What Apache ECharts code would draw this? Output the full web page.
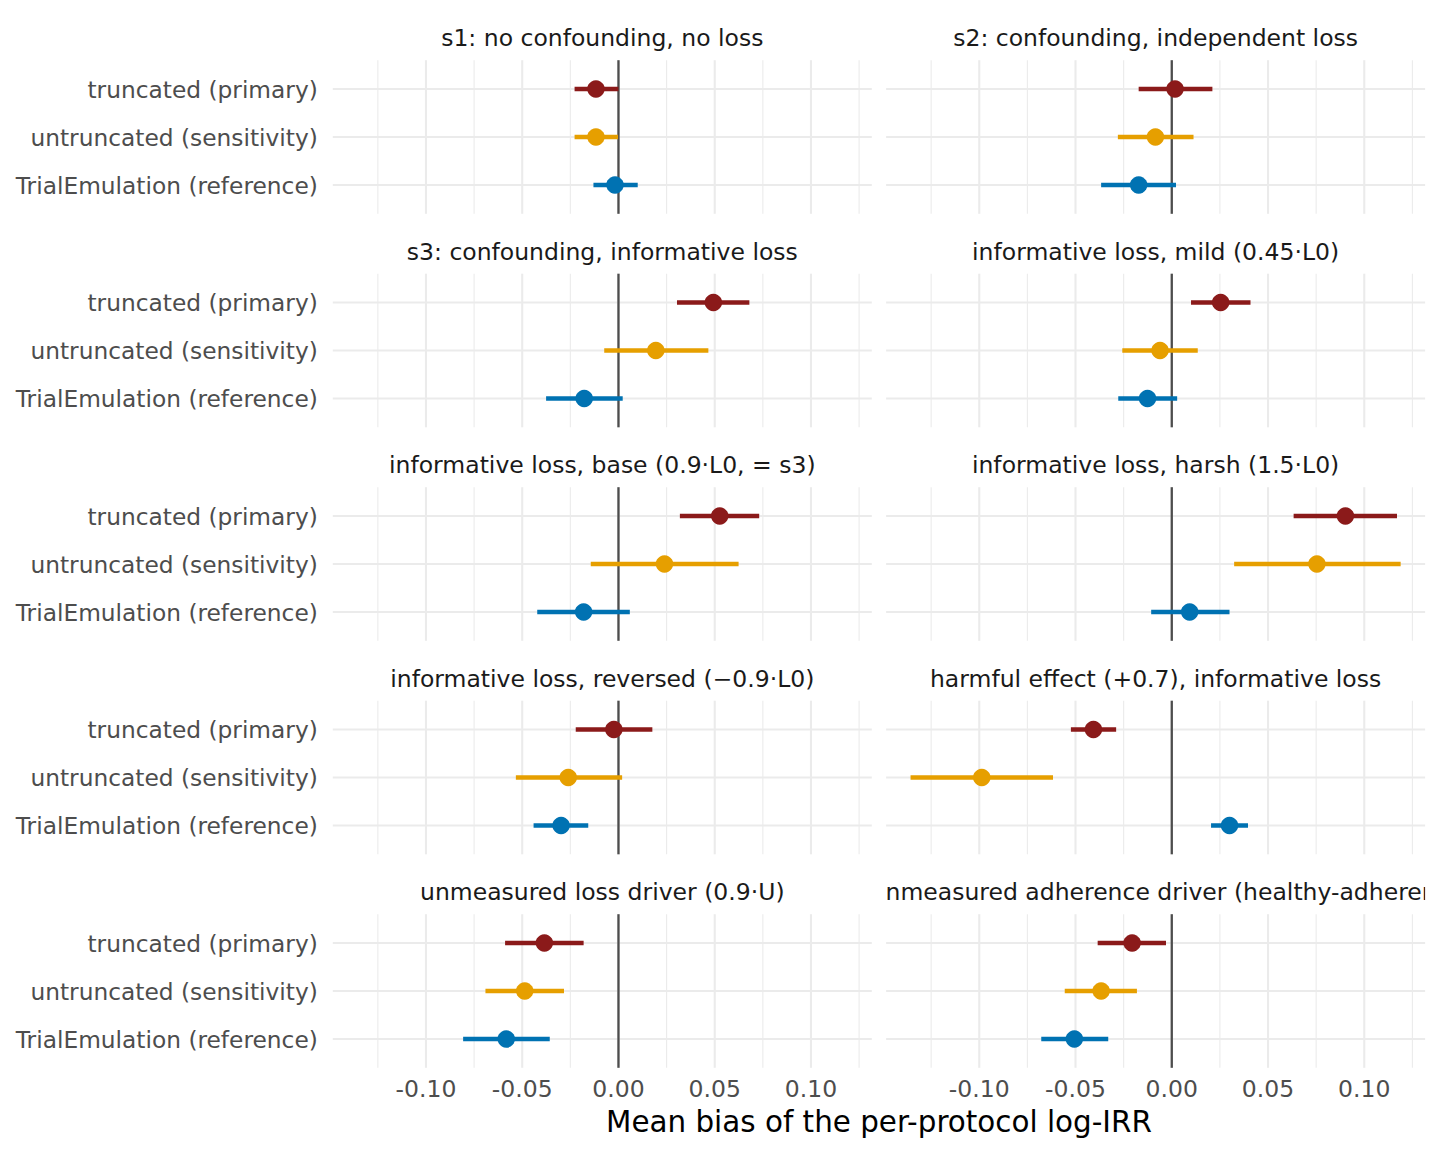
<!DOCTYPE html>
<html>
<head>
<meta charset="utf-8">
<script src="https://cdn.jsdelivr.net/npm/echarts@6/dist/echarts.min.js"></script>
<style>
html,body{margin:0;padding:0;background:#ffffff;}
#chart{width:1440px;height:1152px;}
</style>
</head>
<body>
<div id="chart"></div>
<script>
// ---------------- data ----------------
const panelTitles = [
  "s1: no confounding, no loss",
  "s2: confounding, independent loss",
  "s3: confounding, informative loss",
  "informative loss, mild (0.45\u00b7L0)",
  "informative loss, base (0.9\u00b7L0, = s3)",
  "informative loss, harsh (1.5\u00b7L0)",
  "informative loss, reversed (\u22120.9\u00b7L0)",
  "harmful effect (+0.7), informative loss",
  "unmeasured loss driver (0.9\u00b7U)",
  "unmeasured adherence driver (healthy-adherer)"
];
const methods = ["truncated (primary)", "untruncated (sensitivity)", "TrialEmulation (reference)"];
const methodColors = ["#8B1A1A", "#E69F00", "#0072B2"];

const estTruncated = [-0.0117, 0.0017, 0.0493, 0.0254, 0.0526, 0.0902, -0.0024, -0.0407, -0.0385, -0.0206];
const loTruncated  = [-0.0228, -0.0172, 0.0304, 0.0100, 0.0319, 0.0633, -0.0222, -0.0524, -0.0589, -0.0385];
const hiTruncated  = [0.0000, 0.0211, 0.0680, 0.0409, 0.0731, 0.1170, 0.0176, -0.0289, -0.0181, -0.0030];

const estUntruncated = [-0.0117, -0.0085, 0.0194, -0.0061, 0.0239, 0.0754, -0.0261, -0.0987, -0.0487, -0.0367];
const loUntruncated  = [-0.0228, -0.0280, -0.0074, -0.0257, -0.0144, 0.0324, -0.0533, -0.1357, -0.0691, -0.0556];
const hiUntruncated  = [-0.0002, 0.0113, 0.0467, 0.0135, 0.0624, 0.1189, 0.0019, -0.0617, -0.0283, -0.0181];

const estTrialEmulation = [-0.0018, -0.0172, -0.0178, -0.0126, -0.0181, 0.0093, -0.0298, 0.0300, -0.0583, -0.0506];
const loTrialEmulation  = [-0.0130, -0.0367, -0.0376, -0.0278, -0.0422, -0.0107, -0.0441, 0.0204, -0.0807, -0.0678];
const hiTrialEmulation  = [0.0100, 0.0022, 0.0022, 0.0028, 0.0059, 0.0300, -0.0157, 0.0396, -0.0357, -0.0330];

const xTickValues = [-0.10, -0.05, 0.00, 0.05, 0.10];
const xMinorValues = [-0.125, -0.075, -0.025, 0.025, 0.075, 0.125];
const xTitle = "Mean bias of the per-protocol log-IRR";

// ---------------- layout ----------------
const XMIN = -0.1484, XMAX = 0.1316;
const FONT = "DejaVu Sans";
const colLeft = [332.8, 886.1];
const panelW = 539;
const rowStep = 48;
const row0 = [89, 302.5, 516, 729.5, 943];
const GRID_COLOR = '#EBEBEB';

const estAll = [estTruncated, estUntruncated, estTrialEmulation];
const loAll = [loTruncated, loUntruncated, loTrialEmulation];
const hiAll = [hiTruncated, hiUntruncated, hiTrialEmulation];

function fmtTick(v) {
  return (v < -1e-9 ? "-" : "") + Math.abs(v).toFixed(2);
}

const grids = [], xAxes = [], yAxes = [], series = [], graphics = [];

function vLineRender(width, color) {
  return function (params, api) {
    const a = api.coord([api.value(0), 0]);
    const b = api.coord([api.value(0), 1]);
    return { type: 'line', shape: { x1: a[0], y1: a[1], x2: b[0], y2: b[1] },
             style: { stroke: color, lineWidth: width, lineCap: 'butt' } };
  };
}

for (let i = 0; i < panelTitles.length; i++) {
  const col = i % 2, r = Math.floor(i / 2);
  const left = colLeft[col];
  const gA = 2 * i, gB = 2 * i + 1;
  grids.push({ left: left, top: row0[r] - 0.6 * rowStep, width: panelW, height: 3.2 * rowStep, outerBoundsMode: 'none' });
  grids.push({ left: left, top: row0[r] - 0.5 * rowStep, width: panelW, height: 3 * rowStep, outerBoundsMode: 'none' });

  xAxes.push({
    type: 'value', gridIndex: gA, min: XMIN, max: XMAX,
    splitLine: { show: false }, axisLine: { show: false }, axisTick: { show: false },
    axisLabel: {
      show: r === 4, customValues: xTickValues, formatter: fmtTick,
      fontSize: 23.5, fontFamily: FONT, color: '#4D4D4D', margin: 9
    }
  });
  xAxes.push({ type: 'value', gridIndex: gB, min: XMIN, max: XMAX, show: false });
  yAxes.push({ type: 'value', gridIndex: gA, min: 0, max: 1, show: false });
  yAxes.push({
    type: 'category', gridIndex: gB, data: methods, inverse: true,
    axisLine: { show: false }, axisTick: { show: false }, splitLine: { show: false },
    axisLabel: { show: col === 0, fontSize: 23.3, fontFamily: FONT, color: '#4D4D4D', margin: 15 }
  });

  // minor vertical grid lines
  series.push({
    type: 'custom', xAxisIndex: gA, yAxisIndex: gA, silent: true, animation: false, z: 1,
    data: xMinorValues.map(v => [v]), encode: { x: 0 },
    renderItem: vLineRender(1.1, GRID_COLOR)
  });
  // major vertical grid lines
  series.push({
    type: 'custom', xAxisIndex: gA, yAxisIndex: gA, silent: true, animation: false, z: 1,
    data: xTickValues.map(v => [v]), encode: { x: 0 },
    renderItem: vLineRender(2.1, GRID_COLOR)
  });
  // horizontal grid lines at categories
  series.push({
    type: 'custom', xAxisIndex: gB, yAxisIndex: gB, silent: true, animation: false, z: 1,
    data: methods.map(m => [m]), encode: { y: 0 },
    renderItem: function (params, api) {
      const a = api.coord([XMIN, api.value(0)]);
      const b = api.coord([XMAX, api.value(0)]);
      return { type: 'line', shape: { x1: a[0], y1: a[1], x2: b[0], y2: b[1] },
               style: { stroke: GRID_COLOR, lineWidth: 2.1, lineCap: 'butt' } };
    }
  });
  // zero reference line
  series.push({
    type: 'custom', xAxisIndex: gA, yAxisIndex: gA, silent: true, animation: false, z: 2,
    data: [[0]], encode: { x: 0 },
    renderItem: vLineRender(2.3, '#4D4D4D')
  });

  for (let m = 0; m < methods.length; m++) {
    const color = methodColors[m];
    series.push({
      type: 'custom', xAxisIndex: gB, yAxisIndex: gB, animation: false, silent: true, z: 3,
      data: [[loAll[m][i], hiAll[m][i], methods[m]]],
      encode: { x: [0, 1], y: 2 },
      renderItem: function (params, api) {
        const a = api.coord([api.value(0), api.value(2)]);
        const b = api.coord([api.value(1), api.value(2)]);
        return {
          type: 'line',
          shape: { x1: a[0], y1: a[1], x2: b[0], y2: b[1] },
          style: { stroke: color, lineWidth: 4.3, lineCap: 'butt' }
        };
      }
    });
    series.push({
      type: 'scatter', xAxisIndex: gB, yAxisIndex: gB, animation: false, silent: true, z: 4,
      symbol: 'circle', symbolSize: 17.5,
      itemStyle: { color: color, opacity: 1 },
      data: [[estAll[m][i], methods[m]]]
    });
  }

  // strip title
  graphics.push({
    type: 'text', z: 10,
    x: left + panelW / 2, y: row0[r] - 51,
    style: {
      text: panelTitles[i], fill: '#1A1A1A', fontSize: 23.5, fontFamily: FONT,
      align: 'center', verticalAlign: 'middle', textAlign: 'center', textVerticalAlign: 'middle'
    }
  });
}

// mask strip overflow of the last (clipped) strip title, as in the reference
graphics.push({ type: 'rect', z: 20, shape: { x: 862, y: 872, width: 886.1 - 862, height: 40 }, style: { fill: '#ffffff' } });
graphics.push({ type: 'rect', z: 20, shape: { x: 886.1 + panelW, y: 872, width: 40, height: 40 }, style: { fill: '#ffffff' } });

// x axis title
graphics.push({
  type: 'text', z: 10, x: (colLeft[0] + colLeft[1] + panelW) / 2, y: 1122,
  style: {
    text: xTitle, fill: '#000000', fontSize: 29.4, fontFamily: FONT,
    align: 'center', verticalAlign: 'middle', textAlign: 'center', textVerticalAlign: 'middle'
  }
});

const chart = echarts.init(document.getElementById('chart'), null, { renderer: 'svg', width: 1440, height: 1152 });
chart.setOption({
  animation: false,
  backgroundColor: '#ffffff',
  grid: grids,
  xAxis: xAxes,
  yAxis: yAxes,
  series: series,
  graphic: { elements: graphics }
});
</script>
</body>
</html>
